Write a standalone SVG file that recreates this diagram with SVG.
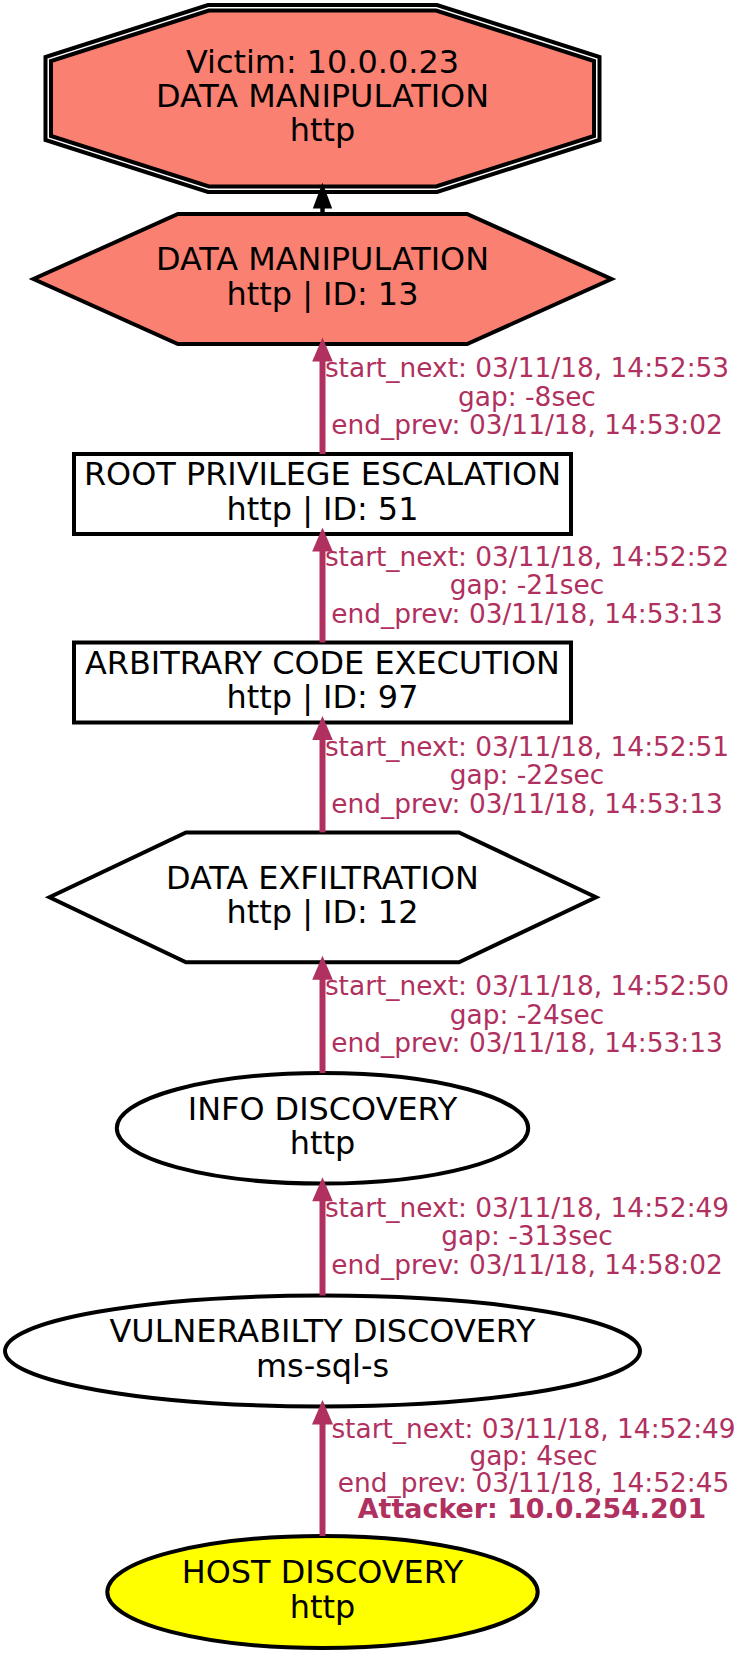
<svg xmlns="http://www.w3.org/2000/svg" width="743" height="1655" viewBox="0 0 743 1655">
<style>
.n{stroke:#000;stroke-width:4;}
.t{font-family:"DejaVu Sans",sans-serif;font-size:31.9px;fill:#000;text-anchor:middle;}
.l{font-family:"DejaVu Sans",sans-serif;font-size:26.4px;fill:#b03060;text-anchor:middle;}
.b{font-weight:bold;font-size:26.9px;}
.e{stroke:#b03060;stroke-width:6;fill:none;}
.h{fill:#b03060;stroke:none;}
</style>
<rect x="0" y="0" width="743" height="1655" fill="#fff"/>
<g id="victim">
<polygon class="n" fill="none" stroke-width="3.3" points="208,5 437,5 599.5,57 599.5,140 437,192 208,192 45.5,140 45.5,57"/>
<polygon class="n" fill="#fa8072" stroke-width="2.8" points="208.9,10.5 436.1,10.5 594,61 594,136 436.1,186.5 208.9,186.5 51,136 51,61"/>
<text class="t" x="322.5" y="72.8">Victim: 10.0.0.23</text>
<text class="t" x="322.5" y="107.1">DATA MANIPULATION</text>
<text class="t" x="322.5" y="141.4">http</text>
</g>
<g id="n13">
<polygon class="n" fill="#fa8072" points="177.9,214 467.1,214 611.5,279 467.1,344 177.9,344 33.5,279"/>
<text class="t" x="322.5" y="270.4">DATA MANIPULATION</text>
<text class="t" x="322.5" y="304.7">http | ID: 13</text>
</g>
<g id="n51">
<rect class="n" fill="#fff" x="74" y="454" width="497" height="80"/>
<text class="t" x="322.5" y="485.4">ROOT PRIVILEGE ESCALATION</text>
<text class="t" x="322.5" y="519.7">http | ID: 51</text>
</g>
<g id="n97">
<rect class="n" fill="#fff" x="74" y="642.5" width="497" height="80"/>
<text class="t" x="322.5" y="673.9">ARBITRARY CODE EXECUTION</text>
<text class="t" x="322.5" y="708.2">http | ID: 97</text>
</g>
<g id="n12">
<polygon class="n" fill="#fff" points="186,832.4 459,832.4 596,897.3 459,962.2 186,962.2 49.5,897.3"/>
<text class="t" x="322.5" y="888.7">DATA EXFILTRATION</text>
<text class="t" x="322.5" y="923">http | ID: 12</text>
</g>
<g id="info">
<ellipse class="n" fill="#fff" cx="322.5" cy="1128.3" rx="205.7" ry="55.3"/>
<text class="t" x="322.5" y="1119.7">INFO DISCOVERY</text>
<text class="t" x="322.5" y="1154">http</text>
</g>
<g id="vuln">
<ellipse class="n" fill="#fff" cx="322.5" cy="1351" rx="317.5" ry="55.4"/>
<text class="t" x="322.5" y="1342.4">VULNERABILTY DISCOVERY</text>
<text class="t" x="322.5" y="1376.7">ms-sql-s</text>
</g>
<g id="host">
<ellipse class="n" fill="#ffff00" cx="322.5" cy="1592" rx="215.2" ry="56"/>
<text class="t" x="322.5" y="1583.4">HOST DISCOVERY</text>
<text class="t" x="322.5" y="1617.7">http</text>
</g>
<g id="edges">
<line x1="322.5" y1="214" x2="322.5" y2="206" stroke="#000" stroke-width="4.4"/>
<polygon fill="#000" points="322.5,182.7 332.2,208.5 312.8,208.5"/>
<line class="e" x1="322.5" y1="454" x2="322.5" y2="359"/>
<polygon class="h" points="322.5,337.5 332.8,361.5 312.2,361.5"/>
<line class="e" x1="322.5" y1="642.5" x2="322.5" y2="549"/>
<polygon class="h" points="322.5,527.5 332.8,551.5 312.2,551.5"/>
<line class="e" x1="322.5" y1="832.4" x2="322.5" y2="738"/>
<polygon class="h" points="322.5,716 332.8,740 312.2,740"/>
<line class="e" x1="322.5" y1="1073" x2="322.5" y2="977"/>
<polygon class="h" points="322.5,955.7 332.8,979.7 312.2,979.7"/>
<line class="e" x1="322.5" y1="1295.5" x2="322.5" y2="1199"/>
<polygon class="h" points="322.5,1177.2 332.8,1201.2 312.2,1201.2"/>
<line class="e" x1="322.5" y1="1536" x2="322.5" y2="1422"/>
<polygon class="h" points="322.5,1400 333,1424.5 312,1424.5"/>
<text class="l" x="527" y="377.3">start_next: 03/11/18, 14:52:53</text>
<text class="l" x="527" y="405.8">gap: -8sec</text>
<text class="l" x="527" y="434.3">end_prev: 03/11/18, 14:53:02</text>
<text class="l" x="527" y="565.8">start_next: 03/11/18, 14:52:52</text>
<text class="l" x="527" y="594.3">gap: -21sec</text>
<text class="l" x="527" y="622.8">end_prev: 03/11/18, 14:53:13</text>
<text class="l" x="527" y="755.5">start_next: 03/11/18, 14:52:51</text>
<text class="l" x="527" y="784">gap: -22sec</text>
<text class="l" x="527" y="812.5">end_prev: 03/11/18, 14:53:13</text>
<text class="l" x="527" y="995">start_next: 03/11/18, 14:52:50</text>
<text class="l" x="527" y="1023.5">gap: -24sec</text>
<text class="l" x="527" y="1052">end_prev: 03/11/18, 14:53:13</text>
<text class="l" x="527" y="1216.5">start_next: 03/11/18, 14:52:49</text>
<text class="l" x="527" y="1245">gap: -313sec</text>
<text class="l" x="527" y="1273.5">end_prev: 03/11/18, 14:58:02</text>
<text class="l" x="533.5" y="1438.3">start_next: 03/11/18, 14:52:49</text>
<text class="l" x="533.5" y="1465">gap: 4sec</text>
<text class="l" x="533.5" y="1491.7">end_prev: 03/11/18, 14:52:45</text>
<text class="l b" x="532" y="1518.3">Attacker: 10.0.254.201</text>
</g>
</svg>
